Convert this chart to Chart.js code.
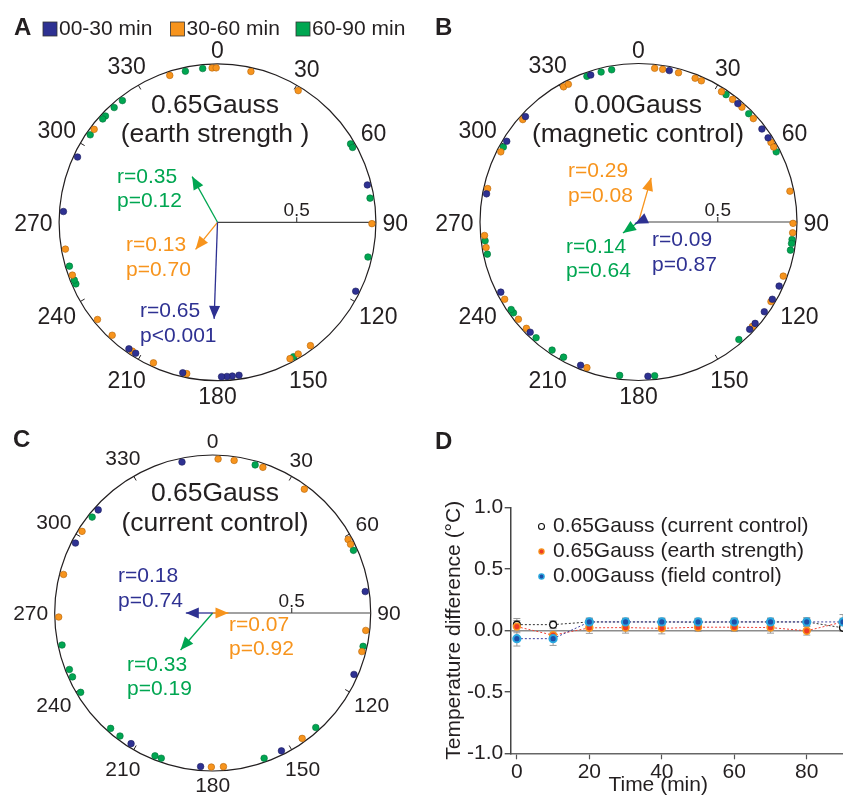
<!DOCTYPE html>
<html>
<head>
<meta charset="utf-8">
<script src="https://cdn.jsdelivr.net/npm/chart.js@4.4.1/dist/chart.umd.min.js"></script>
<style>
  body { margin: 0; background: #fff; }
  canvas { position: absolute; }
</style>
</head>
<body>
<canvas id="chart-a" width="420" height="415" style="left:0;top:0"></canvas>
<canvas id="chart-b" width="423" height="415" style="left:420px;top:0"></canvas>
<canvas id="chart-c" width="420" height="383" style="left:0;top:415px"></canvas>
<canvas id="chart-d" width="423" height="383" style="left:420px;top:415px"></canvas>
<script>
// --- shared ---
const FONT = "'Liberation Sans', Arial, sans-serif";
const INK = "#231f20";
const periodLabels = ["00-30 min", "30-60 min", "60-90 min"];
const periodColors = ["#2e3192", "#f7941d", "#00a651"];
const periodEdges = ["#1c1e5c", "#b5650a", "#00703a"];
const angleTickLabels = [0, 30, 60, 90, 120, 150, 180, 210, 240, 270, 300, 330];

// --- A: 0.65Gauss (earth strength), headings in degrees ---
const aEarly = [295, 76, 116.5, 172, 174.5, 176.5, 178.5, 193, 212, 215, 274];
const aMid = [342, 358, 359.5, 12.5, 31.5, 307, 90.5, 143, 148.5, 152, 191.5, 204.5, 213.5, 223, 231, 250, 260];
const aLate = [348, 354.5, 322, 318, 313.5, 312, 304.5, 59.5, 61, 81, 103, 150.5, 246.5, 248, 253.5];
const aMeanAngle = [182, 219, 331];
const aMeanLength = [0.61, 0.22, 0.33];
const aStatR = ["r=0.65", "r=0.13", "r=0.35"];
const aStatP = ["p<0.001", "p=0.70", "p=0.12"];

// --- B: 0.00Gauss (magnetic control) ---
const bEarly = [11.5, 40, 53, 57, 114.5, 120, 125.5, 131, 134, 176.5, 202, 224.5, 243, 280.5, 301.5, 313, 342];
const bMid = [6, 9, 15, 21.5, 24, 32.5, 37.5, 42, 48, 59, 61, 78.5, 90.5, 94, 110.5, 121, 132.5, 199.5, 226.5, 231, 240, 260.5, 265, 282.5, 297, 311.5, 331, 333];
const bLate = [34.5, 45.5, 63, 96.5, 98, 100.5, 139.5, 174, 187, 209, 214, 221.5, 234, 235.5, 258, 263, 299, 340.5, 346, 350];
const bMeanAngle = [245, 16, 235];
const bMeanLength = [0.025, 0.29, 0.12];
const bStatR = ["r=0.09", "r=0.29", "r=0.14"];
const bStatP = ["p=0.87", "p=0.08", "p=0.64"];

// --- C: 0.65Gauss (current control) ---
const cEarly = [348.5, 82, 113.5, 153.5, 184.5, 212, 297, 312];
const cMid = [2, 8, 19, 36.5, 61.5, 63.5, 96.5, 104.5, 144.5, 176, 180.5, 268.5, 284.5, 302];
const cLate = [16, 66, 102.5, 138, 160.5, 199.5, 202, 217, 221.5, 239, 245.5, 248.5, 258, 308.5];
const cMeanAngle = [270, 90, 221];
const cMeanLength = [0.17, 0.10, 0.31];
const cStatR = ["r=0.18", "r=0.07", "r=0.33"];
const cStatP = ["p=0.74", "p=0.92", "p=0.19"];

// --- D: temperature difference over time ---
const timePoints = [0, 10, 20, 30, 40, 50, 60, 70, 80, 90];
const currentControl = [0.046, 0.046, 0.068, 0.068, 0.068, 0.066, 0.068, 0.068, 0.068, 0.020];
const currentErr = [0.05, 0.03, 0.03, 0.03, 0.03, 0.03, 0.03, 0.03, 0.035, 0.03];
const earthStrength = [0.030, -0.040, 0.020, 0.022, 0.016, 0.025, 0.025, 0.022, -0.004, 0.068];
const earthErr = [0.05, 0.04, 0.045, 0.045, 0.045, 0.035, 0.035, 0.045, 0.035, 0.06];
const fieldControl = [-0.068, -0.068, 0.068, 0.068, 0.068, 0.068, 0.068, 0.068, 0.068, 0.068];
const fieldErr = [0.06, 0.055, 0.03, 0.03, 0.03, 0.03, 0.03, 0.03, 0.03, 0.03];
const tempTicks = [-1, -0.5, 0, 0.5, 1];
const timeTicks = [0, 20, 40, 60, 80];

const DOT_R = 0.975;
function polar(deg, r) {
  const t = deg * Math.PI / 180;
  return { x: r * Math.sin(t), y: r * Math.cos(t) };
}

// circle frame, labels, arrowheads
const compassPlugin = {
  id: "compass",
  beforeDatasetsDraw(chart) {
    const { ctx, scales: { x, y } } = chart;
    const o = chart.options.plugins.compass;
    const cx = x.getPixelForValue(0), cy = y.getPixelForValue(0);
    const R = x.getPixelForValue(1) - cx;
    ctx.save();
    ctx.strokeStyle = INK;
    ctx.lineWidth = 1.2;
    ctx.beginPath();
    ctx.arc(cx, cy, R, 0, Math.PI * 2);
    ctx.stroke();
    // small inward ticks
    ctx.lineWidth = 1;
    angleTickLabels.forEach(a => {
      if (a % 90 === 0) return;
      const t = a * Math.PI / 180;
      ctx.beginPath();
      ctx.moveTo(cx + R * Math.sin(t), cy - R * Math.cos(t));
      ctx.lineTo(cx + (R - 5) * Math.sin(t), cy - (R - 5) * Math.cos(t));
      ctx.stroke();
    });
    // radius scale line
    ctx.strokeStyle = "#444";
    ctx.lineWidth = 1.2;
    ctx.beginPath();
    ctx.moveTo(cx, cy);
    ctx.lineTo(cx + R, cy);
    const half = x.getPixelForValue(0.5);
    ctx.moveTo(half, cy);
    ctx.lineTo(half, cy - 5);
    ctx.stroke();
    ctx.fillStyle = INK;
    ctx.font = "19px " + FONT;
    ctx.textAlign = "center";
    ctx.textBaseline = "alphabetic";
    ctx.fillText("0.5", half, cy - 6);
    // angle labels
    ctx.font = o.labelSize + "px " + FONT;
    ctx.textBaseline = "middle";
    angleTickLabels.forEach(a => {
      const t = a * Math.PI / 180, s = Math.sin(t), c = Math.cos(t);
      const txt = String(a);
      const w = ctx.measureText(txt).width, h = o.labelSize * 0.716;
      const d = R + o.labelGap + Math.abs(s) * w / 2 + Math.abs(c) * h / 2;
      ctx.fillText(txt, cx + d * s, cy - d * c + o.labelShift);
    });
    // title
    ctx.font = "26.5px " + FONT;
    o.title.forEach((line, i) => ctx.fillText(line, o.titleX, o.titleY[i]));
    // panel letter
    ctx.font = "bold 24px " + FONT;
    ctx.textAlign = "left";
    ctx.textBaseline = "alphabetic";
    ctx.fillText(o.letter, o.letterX, o.letterY);
    // period legend
    if (o.legendX) {
      ctx.font = "21px " + FONT;
      ctx.textBaseline = "middle";
      periodLabels.forEach((lab, k) => {
        const lx = o.legendX[k];
        ctx.fillStyle = periodColors[k];
        ctx.fillRect(lx, 22, 14, 14);
        ctx.strokeStyle = "#333";
        ctx.lineWidth = 0.8;
        ctx.strokeRect(lx, 22, 14, 14);
        ctx.fillStyle = INK;
        ctx.fillText(lab, lx + 16, 29.5);
      });
    }
    ctx.restore();
  },
  afterDatasetsDraw(chart) {
    const { ctx } = chart;
    const o = chart.options.plugins.compass;
    ctx.save();
    chart.data.datasets.forEach((ds, i) => {
      if (!ds.arrow) return;
      const [p0, p1] = chart.getDatasetMeta(i).data;
      const ang = Math.atan2(p1.y - p0.y, p1.x - p0.x);
      const L = 13, W = 11;
      const bx = p1.x - L * Math.cos(ang), by = p1.y - L * Math.sin(ang);
      ctx.fillStyle = ds.borderColor;
      ctx.beginPath();
      ctx.moveTo(p1.x, p1.y);
      ctx.lineTo(bx + W / 2 * Math.sin(ang), by - W / 2 * Math.cos(ang));
      ctx.lineTo(bx - W / 2 * Math.sin(ang), by + W / 2 * Math.cos(ang));
      ctx.closePath();
      ctx.fill();
    });
    ctx.font = "21px " + FONT;
    ctx.textAlign = "left";
    ctx.textBaseline = "middle";
    o.stats.forEach((st, k) => {
      ctx.fillStyle = periodColors[k];
      ctx.fillText(o.statR[k], st[0], st[1]);
      ctx.fillText(o.statP[k], st[0], st[1] + 24.5);
    });
    ctx.restore();
  }
};

function makeCompass(id, dots, meanAngle, meanLength, style) {
  const datasets = [];
  dots.forEach((list, k) => datasets.push({
    label: periodLabels[k],
    data: list.map(a => polar(a, DOT_R)),
    backgroundColor: periodColors[k],
    borderColor: periodEdges[k],
    borderWidth: 0.6,
    pointRadius: 3.3,
    clip: false
  }));
  meanAngle.forEach((a, k) => datasets.push({
    type: "line",
    arrow: true,
    data: [{ x: 0, y: 0 }, polar(a, meanLength[k])],
    borderColor: periodColors[k],
    borderWidth: 1.3,
    pointRadius: 0,
    showLine: true,
    clip: false
  }));
  return new Chart(document.getElementById(id), {
    type: "scatter",
    data: { datasets },
    options: {
      responsive: false,
      animation: false,
      events: [],
      layout: { autoPadding: false, padding: style.padding },
      scales: {
        x: { type: "linear", display: false, min: -1, max: 1 },
        y: { type: "linear", display: false, min: -1, max: 1 }
      },
      plugins: { legend: { display: false }, tooltip: { enabled: false }, compass: style }
    },
    plugins: [compassPlugin]
  });
}

makeCompass("chart-a", [aEarly, aMid, aLate], aMeanAngle, aMeanLength, {
  padding: { left: 59.1, top: 63.9, right: 44.1, bottom: 34.3 },
  labelSize: 23, labelGap: 6.5, labelShift: 2.5,
  title: ["0.65Gauss", "(earth strength )"], titleX: 215, titleY: [106, 135],
  letter: "A", letterX: 14, letterY: 35,
  legendX: [43, 170.5, 296],
  statR: aStatR, statP: aStatP,
  stats: [[140, 311.5], [126, 245.5], [117, 177]]
});

makeCompass("chart-b", [bEarly, bMid, bLate], bMeanAngle, bMeanLength, {
  padding: { left: 60, top: 63.5, right: 46, bottom: 34.5 },
  labelSize: 23, labelGap: 6.5, labelShift: 2.5,
  title: ["0.00Gauss", "(magnetic control)"], titleX: 218, titleY: [106, 135],
  letter: "B", letterX: 15, letterY: 35,
  statR: bStatR, statP: bStatP,
  stats: [[232, 240.5], [148, 171.5], [146, 247]]
});

makeCompass("chart-c", [cEarly, cMid, cLate], cMeanAngle, cMeanLength, {
  padding: { left: 54.7, top: 40, right: 49.3, bottom: 27 },
  labelSize: 21, labelGap: 6.5, labelShift: 1.5,
  title: ["0.65Gauss", "(current control)"], titleX: 215, titleY: [78.5, 108.5],
  letter: "C", letterX: 13, letterY: 31.5,
  statR: cStatR, statP: cStatP,
  stats: [[118, 161.5], [229, 210], [127, 250]]
});

// --- D ---
function xy(xs, ys) { return xs.map((t, i) => ({ x: t, y: ys[i] })); }

const tempPlugin = {
  id: "tempExtras",
  beforeDatasetsDraw(chart) {
    const { ctx, scales: { x, y } } = chart;
    ctx.save();
    ctx.strokeStyle = "#9a9a9a";
    ctx.lineWidth = 1;
    chart.data.datasets.forEach(ds => {
      ds.data.forEach((p, i) => {
        const px = x.getPixelForValue(p.x);
        const top = y.getPixelForValue(p.y + ds.err[i]);
        const bot = y.getPixelForValue(p.y - ds.err[i]);
        ctx.beginPath();
        ctx.moveTo(px, top); ctx.lineTo(px, bot);
        ctx.moveTo(px - 3.5, top); ctx.lineTo(px + 3.5, top);
        ctx.moveTo(px - 3.5, bot); ctx.lineTo(px + 3.5, bot);
        ctx.stroke();
      });
    });
    ctx.restore();
  },
  afterDraw(chart) {
    const { ctx, scales: { x } } = chart;
    ctx.save();
    ctx.fillStyle = INK;
    ctx.font = "bold 24px " + FONT;
    ctx.textAlign = "left";
    ctx.fillText("D", 15, 33.5);
    ctx.font = "21px " + FONT;
    ctx.textAlign = "center";
    ctx.textBaseline = "middle";
    ctx.fillText("Time (min)", x.getPixelForValue(39), 370.5);
    // legend
    ctx.textAlign = "left";
    const order = [2, 1, 0];
    order.forEach((di, row) => {
      const ds = chart.data.datasets[di];
      const ly = 111.5 + row * 25;
      ctx.beginPath();
      ctx.arc(121.5, ly, ds.legendRadius, 0, Math.PI * 2);
      ctx.fillStyle = ds.pointBackgroundColor;
      ctx.fill();
      ctx.lineWidth = ds.legendBorder;
      ctx.strokeStyle = ds.pointBorderColor;
      ctx.stroke();
      ctx.fillStyle = INK;
      ctx.fillText(ds.label, 133, ly);
    });
    ctx.restore();
  }
};

new Chart(document.getElementById("chart-d"), {
  type: "line",
  data: {
    datasets: [
      {
        label: "0.00Gauss (field control)", order: 0,
        data: xy(timePoints, fieldControl), err: fieldErr,
        borderColor: "#3d3f9f", borderWidth: 1, borderDash: [2, 2],
        pointRadius: 3.6, pointBackgroundColor: "#1d4fa8", pointBorderColor: "#2aa9e0", pointBorderWidth: 2,
        legendRadius: 2.6, legendBorder: 1.4, clip: false
      },
      {
        label: "0.65Gauss (earth strength)", order: 1,
        data: xy(timePoints, earthStrength), err: earthErr,
        borderColor: "#ef4136", borderWidth: 1, borderDash: [2, 2],
        pointRadius: 3.4, pointBackgroundColor: "#ee3b24", pointBorderColor: "#f7941d", pointBorderWidth: 1.6,
        legendRadius: 2.6, legendBorder: 1.2, clip: false
      },
      {
        label: "0.65Gauss (current control)", order: 2,
        data: xy(timePoints, currentControl), err: currentErr,
        borderColor: "#333", borderWidth: 1, borderDash: [2, 2],
        pointRadius: 3.4, pointBackgroundColor: "#fff", pointBorderColor: "#111", pointBorderWidth: 1.3,
        legendRadius: 3, legendBorder: 1.1, clip: false
      }
    ]
  },
  options: {
    responsive: false,
    animation: false,
    events: [],
    layout: { autoPadding: false, padding: { top: 92.3, left: 0, right: 0, bottom: 0 } },
    scales: {
      x: {
        type: "linear", min: -1.7, max: 90,
        afterBuildTicks: s => { s.ticks = timeTicks.map(v => ({ value: v })); },
        afterFit: s => { s.height = 44.7; s.paddingLeft = 0; s.paddingRight = 0; },
        ticks: { font: { family: FONT, size: 21 }, color: INK, padding: 0 },
        grid: { drawOnChartArea: false, tickLength: 6, tickColor: "#555", tickWidth: 1.2 },
        border: { color: "#666", width: 1.5 }
      },
      y: {
        type: "linear", min: -1, max: 1,
        afterBuildTicks: s => { s.ticks = tempTicks.map(v => ({ value: v })); },
        afterFit: s => { s.width = 90.7; },
        ticks: { font: { family: FONT, size: 21 }, color: INK, padding: 1.5, callback: v => v.toFixed(1) },
        grid: {
          color: c => (c.tick && c.tick.value === 0 ? "#8c8c8c" : "rgba(0,0,0,0)"),
          lineWidth: 1.5, tickLength: 6, tickColor: "#333", tickWidth: 1.2
        },
        border: { color: "#444", width: 1.5 },
        title: {
          display: true, text: "Temperature difference (°C)", color: INK,
          font: { family: FONT, size: 21 }, padding: { top: 22, bottom: 0 }
        }
      }
    },
    plugins: { legend: { display: false }, tooltip: { enabled: false } }
  },
  plugins: [tempPlugin]
});
</script>
</body>
</html>
